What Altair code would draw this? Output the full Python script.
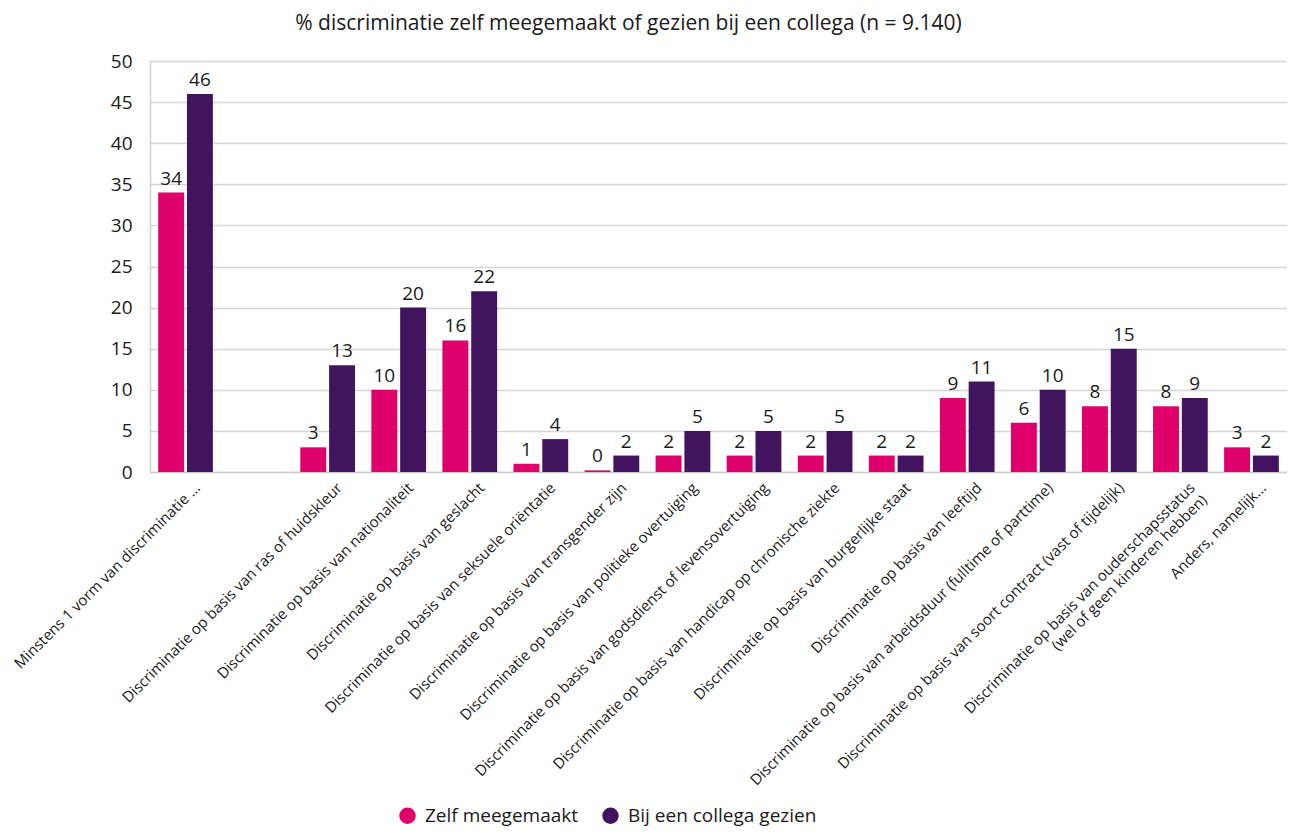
import altair as alt
import pandas as pd

categories = [
    "Minstens 1 vorm van discriminatie ...",
    " ",
    "Discriminatie op basis van ras of huidskleur",
    "Discriminatie op basis van nationaliteit",
    "Discriminatie op basis van geslacht",
    "Discriminatie op basis van seksuele oriëntatie",
    "Discriminatie op basis van transgender zijn",
    "Discriminatie op basis van politieke overtuiging",
    "Discriminatie op basis van godsdienst of levensovertuiging",
    "Discriminatie op basis van handicap op chronische ziekte",
    "Discriminatie op basis van burgerlijke staat",
    "Discriminatie op basis van leeftijd",
    "Discriminatie op basis van arbeidsduur (fulltime of parttime)",
    "Discriminatie op basis van soort contract (vast of tijdelijk)",
    "Discriminatie op basis van ouderschapsstatus\n(wel of geen kinderen hebben)",
    "Anders, namelijk...",
]
data_categories = [c for c in categories if c != " "]

zelf = [34, 3, 10, 16, 1, 0.2, 2, 2, 2, 2, 9, 6, 8, 8, 3]
collega = [46, 13, 20, 22, 4, 2, 5, 5, 5, 2, 11, 10, 15, 9, 2]

series_names = ["Zelf meegemaakt", "Bij een collega gezien"]
series_colors = ["#DF006B", "#42145F"]

rows = []
for c, z, k in zip(data_categories, zelf, collega):
    rows.append({"cat": c, "series": series_names[0], "value": z})
    rows.append({"cat": c, "series": series_names[1], "value": k})
df = pd.DataFrame(rows)

FONT = "Open Sans"

x_enc = alt.X(
    "cat:N",
    scale=alt.Scale(domain=categories, paddingInner=0.23, paddingOuter=0.115),
    axis=alt.Axis(
        title=None,
        labelAngle=-45,
        labelFontSize=15,
        labelFont=FONT,
        labelColor="#1a1a1a",
        labelLimit=600,
        labelPadding=8,
        labelOffset=7,
        ticks=False,
        domainColor="#CFCFCF",
        domainWidth=1.5,
        labelExpr="split(datum.label, '\\n')",
    ),
)
xoff = alt.XOffset("series:N", sort=series_names, scale=alt.Scale(paddingInner=0.1, paddingOuter=0))
y_enc = alt.Y(
    "value:Q",
    scale=alt.Scale(domain=[0, 50], nice=False),
    axis=alt.Axis(
        title=None,
        values=list(range(0, 51, 5)),
        labelFontSize=19,
        labelFont=FONT,
        labelColor="#1a1a1a",
        labelPadding=18,
        ticks=False,
        domainColor="#CFCFCF",
        domainWidth=1.5,
        gridColor="#D6D6D6",
        gridWidth=1.5,
    ),
)
color_enc = alt.Color(
    "series:N",
    sort=series_names,
    scale=alt.Scale(domain=series_names, range=series_colors),
    legend=alt.Legend(
        title=None,
        orient="none",
        direction="horizontal",
        legendX=248,
        legendY=745,
        symbolType="circle",
        symbolSize=270,
        symbolStrokeWidth=0,
        labelFontSize=19,
        labelFont=FONT,
        labelColor="#1a1a1a",
        labelLimit=500,
        columnPadding=22,
        labelOffset=8,
    ),
)

base = alt.Chart(df).encode(x=x_enc, xOffset=xoff, y=y_enc)

bars = base.mark_bar(opacity=1).encode(color=color_enc)
labels = base.mark_text(
    baseline="bottom", dy=-4, fontSize=19, font=FONT, color="#1a1a1a"
).encode(text=alt.Text("value:Q", format=".0f"))

chart = (
    alt.layer(bars, labels)
    .properties(
        width=1137,
        height=411,
        title=alt.TitleParams(
            "% discriminatie zelf meegemaakt of gezien bij een collega (n = 9.140)",
            fontSize=21,
            font=FONT,
            fontWeight="normal",
            color="#1a1a1a",
            anchor="middle",
            dx=-90,
            offset=18,
        ),
        autosize=alt.AutoSizeParams(type="none"),
        padding={"left": 142, "top": 53, "right": 0, "bottom": 359},
    )
    .configure_view(stroke=None)
)

chart.save("out.html", embed_options={"renderer": "svg", "actions": False})
